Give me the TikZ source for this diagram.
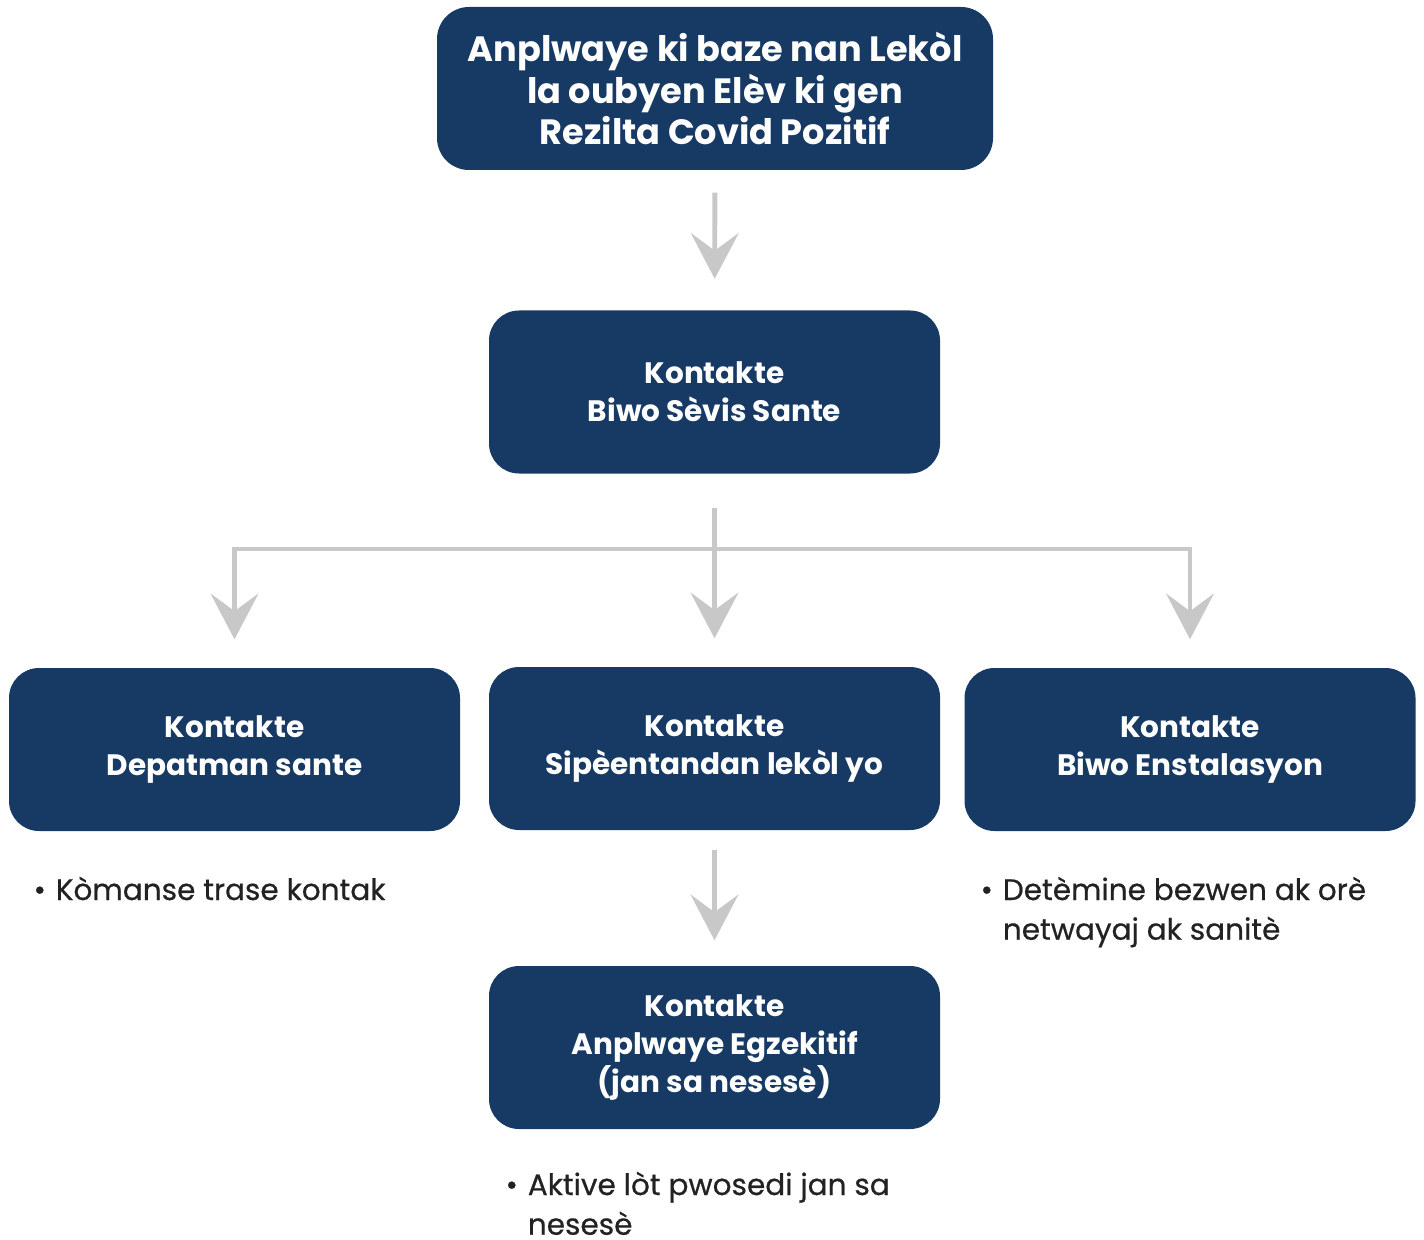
\documentclass[tikz,border=0pt]{standalone}
\usepackage{fontspec}
\setmainfont{Poppins}
\newfontfamily\notefont[FakeBold=0.6]{Poppins}
\usetikzlibrary{arrows.meta}
\definecolor{navy}{HTML}{173A64}
\definecolor{arrowgray}{HTML}{C8C8C8}
\definecolor{inktext}{HTML}{222222}
\newcommand{\bulletline}[1]{\begin{tabular}[t]{@{}p{6.3pt}@{}l@{}}\textbullet & #1\end{tabular}}
\begin{document}
\begin{tikzpicture}
		[box1/.style={rectangle,rounded corners=0.32cm,fill=navy,text=white,
font=\bfseries\fontsize{10.0}{11.9}\selectfont,align=center,
inner sep=0pt,minimum width=5.56cm,minimum height=1.63cm},
		box2/.style={rectangle,rounded corners=0.30cm,fill=navy,text=white,
font=\bfseries\fontsize{8.4}{10.8}\selectfont,align=center,
inner sep=0pt,minimum width=4.51cm,minimum height=1.63cm},
		bullettext/.style={inner sep=0pt,anchor=base west,text=inktext,
font=\notefont\fontsize{8.4}{11.3}\selectfont},
		edgestyle/.style={-{Stealth[length=13pt,width=13.6pt,inset=5pt]},
draw=arrowgray,line width=1.4pt}]
		\useasboundingbox (0,0) rectangle (14.24,-12.39);
		\node at (7.15,-0.885) (top) [box1] {Anplwaye ki baze nan Lekòl\\la oubyen Elèv ki gen\\Rezilta Covid Pozitif};
		\node at (7.145,-3.92) (sevis) [box2] {Kontakte\\Biwo Sèvis Sante};
		\node at (2.345,-7.495) (dep) [box2] {Kontakte\\Depatman sante};
		\node at (7.145,-7.485) (sip) [box2] {Kontakte\\Sipèentandan lekòl yo};
		\node at (11.90,-7.495) (enst) [box2] {Kontakte\\Biwo Enstalasyon};
		\node at (7.145,-10.475) (egz) [box2] {Kontakte\\Anplwaye Egzekitif\\(jan sa nesesè)};
		% bullet notes
		\node at (0.33,-9.00) (depnote) [bullettext] {\bulletline{Kòmanse trase kontak}};
		\node at (9.80,-9.00) (enstnote) [bullettext] {\bulletline{Detèmine bezwen ak orè\\& netwayaj ak sanitè}};
		\node at (5.05,-11.95) (egznote) [bullettext] {\bulletline{Aktive lòt pwosedi jan sa\\& nesesè}};
		% connectors
		\coordinate (split) at (7.145,-5.49);
		\draw [edgestyle,shorten <=0.22cm,shorten >=0.31cm] (top) -- (sevis);
		\draw [edgestyle,shorten <=0.34cm,shorten >=0.28cm] (sevis) -- (sip);
		\draw [edgestyle,shorten >=0.28cm] (split) -| (dep);
		\draw [edgestyle,shorten >=0.28cm] (split) -| (enst);
		\draw [edgestyle,shorten <=0.19cm,shorten >=0.25cm] (sip) -- (egz);
	\end{tikzpicture}
\end{document}
